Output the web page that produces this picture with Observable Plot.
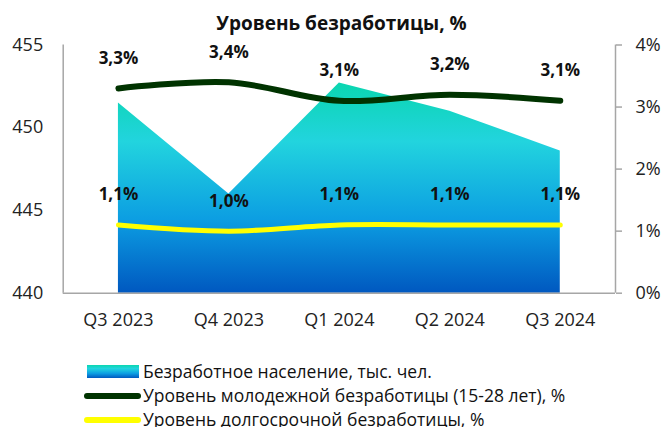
<!DOCTYPE html>
<html>
<head>
<meta charset="utf-8">
<script src="https://cdn.jsdelivr.net/npm/d3@7"></script>
<script src="https://cdn.jsdelivr.net/npm/@observablehq/plot@0.6"></script>
<style>
  html, body { margin: 0; padding: 0; background: #fff; }
  #page { position: relative; width: 663px; height: 427px; overflow: hidden; font-family: "Open Sans", sans-serif; color: #222; }
  #title { height: 36px; box-sizing: border-box; padding-top: 10px; line-height: 26px; text-align: center; font-weight: bold; font-size: 19px; color: #111; padding-left: 20px; }
  #chart svg { display: block; overflow: visible; }
  #legend { position: absolute; left: 0; top: 0; width: 663px; height: 427px; pointer-events: none; }
  .row { position: absolute; left: 0; height: 24px; font-size: 17.5px; color: #111; white-space: nowrap; }
  .sw-area { position: absolute; left: 87px; width: 52px; height: 13px; top: 5px; }
  .sw-line { position: absolute; left: 84px; width: 57px; height: 6px; top: 9px; border-radius: 3px; }
  .lbl { position: absolute; left: 143px; top: -1px; line-height: 24px; }
</style>
</head>
<body>
<div id="page">
  <div id="title">Уровень безработицы, %</div>
  <div id="chart"></div>
  <div id="legend"></div>
</div>
<script>
// ---- data ----
const quarters = ["Q3 2023", "Q4 2023", "Q1 2024", "Q2 2024", "Q3 2024"];
const unemployedPop = [451.5, 446.0, 452.7, 451.0, 448.6];   // тыс. чел. (left axis)
const youthRate = [3.3, 3.4, 3.1, 3.2, 3.1];                 // % (right axis)
const longTermRate = [1.1, 1.0, 1.1, 1.1, 1.1];              // % (right axis)
const leftTicks = [440, 445, 450, 455];
const rightTicks = [0, 1, 2, 3, 4];
const seriesNames = [
  "Безработное население, тыс. чел.",
  "Уровень молодежной безработицы (15-28 лет), %",
  "Уровень долгосрочной безработицы, %"
];
const colors = { youth: "#003300", longTerm: "#ffff00", axis: "#a6a6a6" };
const gradStops = [[0, "#0ad6b0"], [0.28, "#22d4de"], [0.65, "#0c9ee2"], [1, "#0058c0"]];

// ---- build ----
const leftDomain = [leftTicks[0], leftTicks[leftTicks.length - 1]];
const rightDomain = [rightTicks[0], rightTicks[rightTicks.length - 1]];
const k = (leftDomain[1] - leftDomain[0]) / (rightDomain[1] - rightDomain[0]);
const toLeft = p => leftDomain[0] + (p - rightDomain[0]) * k;
const fromLeft = v => rightDomain[0] + (v - leftDomain[0]) / k;
const fmtPct = p => p.toFixed(1).replace(".", ",") + "%";

const data = quarters.map((q, i) => ({
  i, q, pop: unemployedPop[i], youth: youthRate[i], longTerm: longTermRate[i]
}));

const svg = Plot.plot({
  width: 663,
  height: 300,
  marginTop: 8.5,
  marginBottom: 43.3,
  marginLeft: 62.7,
  marginRight: 48,
  style: { fontFamily: "Open Sans, sans-serif", fontSize: "18px", color: "#222", background: "transparent", overflow: "visible" },
  x: { type: "linear", domain: [-0.5, quarters.length - 0.5], label: null },
  y: { domain: leftDomain, label: null },
  marks: [
    Plot.areaY(data, { x: "i", y1: leftDomain[0], y2: "pop", fill: "url(#popGrad)" }),
    Plot.ruleY([leftDomain[0]], { stroke: colors.axis, strokeWidth: 1.5 }),
    Plot.ruleX([-0.5, quarters.length - 0.5], { stroke: colors.axis, strokeWidth: 1.5 }),
    Plot.line(data, { x: "i", y: d => toLeft(d.youth), stroke: colors.youth, strokeWidth: 6, curve: "catmull-rom", strokeLinecap: "round" }),
    Plot.line(data, { x: "i", y: d => toLeft(d.longTerm), stroke: colors.longTerm, strokeWidth: 5, curve: "catmull-rom", strokeLinecap: "round" }),
    Plot.text(data, { x: "i", y: d => toLeft(d.youth), text: d => fmtPct(d.youth), dy: -30, fontWeight: "bold", fontSize: 17, fill: "#111" }),
    Plot.text(data, { x: "i", y: d => toLeft(d.longTerm), text: d => fmtPct(d.longTerm), dy: -30, fontWeight: "bold", fontSize: 17, fill: "#111" }),
    Plot.axisX({ ticks: quarters.map((q, i) => i), tickFormat: i => quarters[i], tickSize: 0, tickPadding: 20, label: null }),
    Plot.axisY({ ticks: leftTicks, tickSize: 0, tickPadding: 20, label: null }),
    Plot.axisY({ anchor: "right", ticks: rightTicks.map(toLeft), tickFormat: v => Math.round(fromLeft(v)) + "%", tickSize: 6, tickPadding: 14, stroke: colors.axis, strokeWidth: 1.5, label: null })
  ]
});

// gradient definition for the area fill
const ns = "http://www.w3.org/2000/svg";
const defs = document.createElementNS(ns, "defs");
const lg = document.createElementNS(ns, "linearGradient");
lg.setAttribute("id", "popGrad");
lg.setAttribute("x1", "0"); lg.setAttribute("y1", "0");
lg.setAttribute("x2", "0"); lg.setAttribute("y2", "1");
for (const [o, c] of gradStops) {
  const s = document.createElementNS(ns, "stop");
  s.setAttribute("offset", o);
  s.setAttribute("stop-color", c);
  lg.appendChild(s);
}
defs.appendChild(lg);
svg.insertBefore(defs, svg.firstChild);
document.getElementById("chart").appendChild(svg);

// legend
const cssGrad = "linear-gradient(to bottom, " + gradStops.map(([o, c]) => c + " " + (o * 100) + "%").join(", ") + ")";
const legend = document.getElementById("legend");
const rowTops = [360, 384, 408];
const swatches = [
  `<div class="sw-area" style="background:${cssGrad}"></div>`,
  `<div class="sw-line" style="background:${colors.youth}"></div>`,
  `<div class="sw-line" style="background:${colors.longTerm}"></div>`
];
seriesNames.forEach((name, i) => {
  const row = document.createElement("div");
  row.className = "row";
  row.style.top = rowTops[i] + "px";
  row.style.width = "663px";
  row.innerHTML = swatches[i] + `<span class="lbl">${name}</span>`;
  legend.appendChild(row);
});
</script>
</body>
</html>
